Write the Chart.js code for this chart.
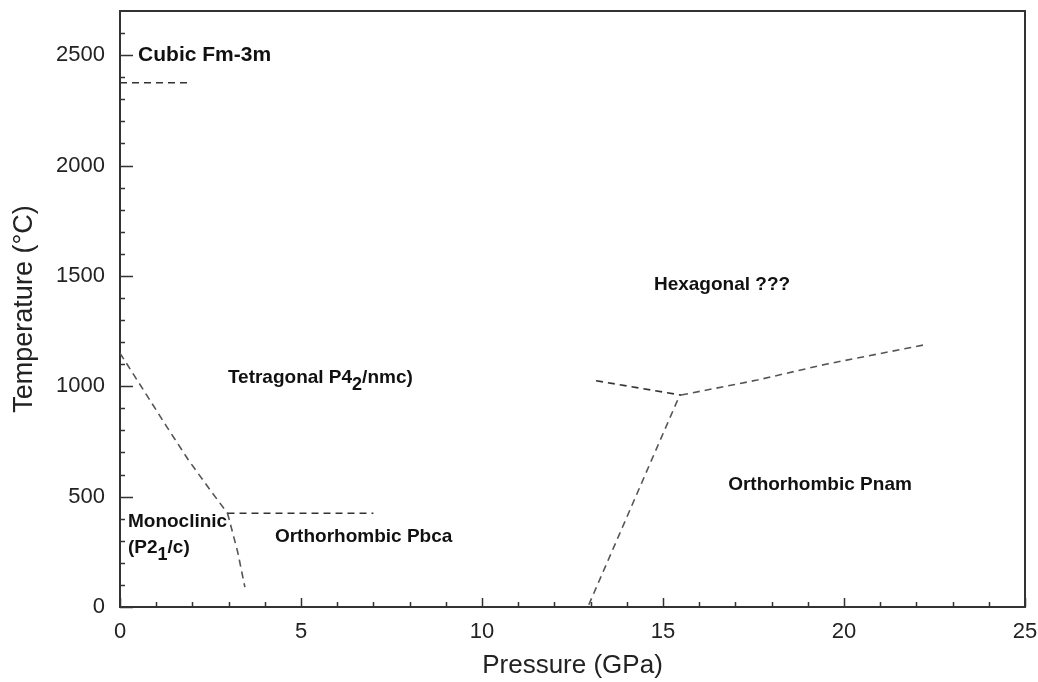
<!DOCTYPE html>
<html>
<head>
<meta charset="utf-8">
<script src="https://cdn.jsdelivr.net/npm/chart.js@4.4.0/dist/chart.umd.min.js"></script>
<style>
    body { margin: 0; background: #fff; }
    #wrap { width: 1038px; height: 682px; }
</style>
</head>
<body>
<div id="wrap"><canvas id="chart" width="1038" height="682"></canvas></div>
<script>
// phase boundaries: pressure (GPa) / temperature (°C)
const cubicP = [0, 1.9];
const cubicT = [2375, 2375];
const monoTetP = [0, 0.64, 1.29, 1.89, 2.49, 2.97];
const monoTetT = [1150, 985, 817, 666, 530, 425];
const tetPbcaP = [2.97, 7.0];
const tetPbcaT = [425, 425];
const monoPbcaP = [2.97, 3.25, 3.45];
const monoPbcaT = [425, 250, 90];
const pbcaPnamP = [12.95, 15.45];
const pbcaPnamT = [10, 955];
const tetHexP = [13.15, 15.5];
const tetHexT = [1025, 960];
const hexPnamP = [15.5, 17.6, 19.5, 22.3];
const hexPnamT = [960, 1028, 1100, 1190];

const xTicks = [0, 5, 10, 15, 20, 25];
const yTicks = [0, 500, 1000, 1500, 2000, 2500];

// phase names, anchored at left edge / vertical middle
const phaseLabels = [
    {p: 0.5, t: 2500, size: 21, parts: [{s: "Cubic Fm-3m"}]},
    {p: 2.98, t: 1037, size: 19, parts: [{s: "Tetragonal P4"}, {s: "2", sub: true}, {s: "/nmc)"}]},
    {p: 14.75, t: 1458, size: 19, parts: [{s: "Hexagonal ???"}]},
    {p: 16.8, t: 553, size: 19, parts: [{s: "Orthorhombic Pnam"}]},
    {p: 4.28, t: 317, size: 19, parts: [{s: "Orthorhombic Pbca"}]},
    {p: 0.22, t: 385, size: 19, parts: [{s: "Monoclinic"}]},
    {p: 0.22, t: 267, size: 19, parts: [{s: "(P2"}, {s: "1", sub: true}, {s: "/c)"}]}
];

const FONT = '"Liberation Sans", Arial, sans-serif';

function toPoints(px, ty) {
    return px.map((p, i) => ({x: p, y: ty[i]}));
}

function boundary(label, px, ty, color) {
    return {
        label: label,
        data: toPoints(px, ty),
        showLine: true,
        borderColor: color,
        borderWidth: 1.6,
        borderDash: [7, 5],
        pointRadius: 0,
        tension: 0,
        fill: false
    };
}

const frame = {
    id: 'frame',
    afterDraw(chart) {
        const c = chart.ctx;
        const a = chart.chartArea;
        const xs = chart.scales.x, ys = chart.scales.y;
        c.save();
        c.strokeStyle = '#333';
        c.lineWidth = 2;
        c.beginPath();
        c.moveTo(a.left, a.top);
        c.lineTo(a.right, a.top);
        c.lineTo(a.right, a.bottom);
        c.stroke();

        // inward ticks
        c.lineWidth = 1.5;
        c.beginPath();
        for (let v = 0; v <= 25; v++) {
            const x = Math.round(xs.getPixelForValue(v)) + 0.5;
            const len = v % 5 === 0 ? 9 : 5;
            c.moveTo(x, a.bottom);
            c.lineTo(x, a.bottom - len);
        }
        for (let v = 0; v <= 2600; v += 100) {
            const y = Math.round(ys.getPixelForValue(v)) + 0.5;
            const len = v % 500 === 0 ? 13 : 5;
            c.moveTo(a.left, y);
            c.lineTo(a.left + len, y);
        }
        c.stroke();

        // phase labels
        c.fillStyle = '#111';
        c.textBaseline = 'middle';
        c.textAlign = 'left';
        phaseLabels.forEach(l => {
            let x = xs.getPixelForValue(l.p);
            const y = ys.getPixelForValue(l.t);
            l.parts.forEach(part => {
                const sz = part.sub ? Math.round(l.size * 0.95) : l.size;
                c.font = 'bold ' + sz + 'px ' + FONT;
                c.fillText(part.s, x, part.sub ? y + 7 : y);
                x += c.measureText(part.s).width;
            });
        });
        c.restore();
    }
};

const config = {
    type: 'scatter',
    data: {
        datasets: [
            boundary('Cubic', cubicP, cubicT, '#333'),
            boundary('Mono-Tet', monoTetP, monoTetT, '#555'),
            boundary('Tet-Pbca', tetPbcaP, tetPbcaT, '#333'),
            boundary('Mono-Pbca', monoPbcaP, monoPbcaT, '#555'),
            boundary('Pbca-Pnam', pbcaPnamP, pbcaPnamT, '#555'),
            boundary('Tet-Hex', tetHexP, tetHexT, '#333'),
            boundary('Hex-Pnam', hexPnamP, hexPnamT, '#555')
        ]
    },
    options: {
        responsive: false,
        animation: false,
        layout: {
            padding: {left: 0, top: 11, right: 13, bottom: 0}
        },
        plugins: {
            legend: {display: false},
            tooltip: {enabled: false}
        },
        scales: {
            x: {
                type: 'linear',
                min: 0,
                max: 25,
                afterFit: (s) => { s.height = 75; s.paddingLeft = 0; s.paddingRight = 0; },
                afterBuildTicks: (s) => { s.ticks = xTicks.map(v => ({value: v})); },
                border: {display: true, color: '#333', width: 2},
                grid: {display: true, drawOnChartArea: false, drawTicks: false},
                ticks: {
                    color: '#222',
                    padding: 12,
                    maxRotation: 0,
                    callback: (v) => String(v),
                    font: {size: 22, family: FONT}
                },
                title: {
                    display: true,
                    text: 'Pressure (GPa)',
                    color: '#222',
                    padding: {top: 0, bottom: 1},
                    font: {size: 26, family: FONT}
                }
            },
            y: {
                type: 'linear',
                min: 0,
                max: 2700,
                afterFit: (s) => { s.width = 120; s.paddingTop = 0; s.paddingBottom = 0; },
                afterBuildTicks: (s) => { s.ticks = yTicks.map(v => ({value: v})); },
                border: {display: true, color: '#333', width: 2},
                grid: {display: true, drawOnChartArea: false, drawTicks: false},
                ticks: {
                    color: '#222',
                    padding: 15,
                    callback: (v) => String(v),
                    font: {size: 22, family: FONT}
                },
                title: {
                    display: true,
                    text: 'Temperature (°C)',
                    color: '#222',
                    padding: {top: 8, bottom: 0},
                    font: {size: 27, family: FONT}
                }
            }
        }
    },
    plugins: [frame]
};

const mainChart = new Chart(document.getElementById('chart'), config);
</script>
</body>
</html>
